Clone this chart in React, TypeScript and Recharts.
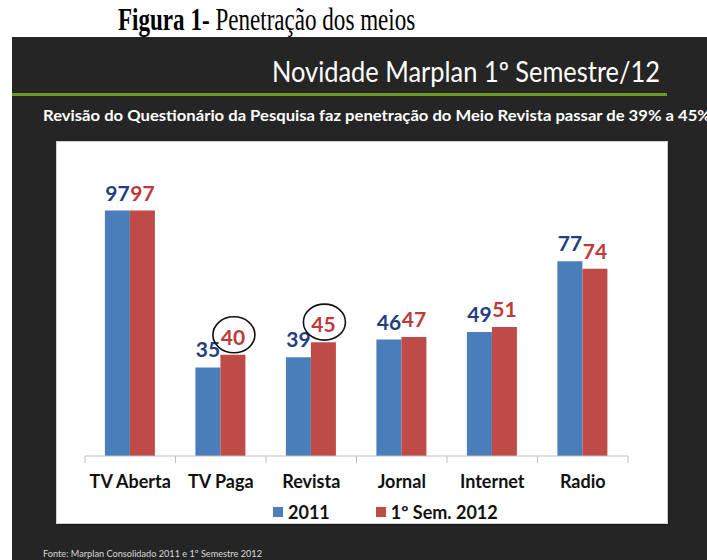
import React, { useLayoutEffect, useRef, useState } from "react";
import { BarChart, Bar, XAxis, YAxis, LabelList } from "recharts";

const categories = ["TV Aberta", "TV Paga", "Revista", "Jornal", "Internet", "Radio"];
const values2011 = [97, 35, 39, 46, 49, 77];
const values2012 = [97, 40, 45, 47, 51, 74];
const seriesNames = ["2011", "1º Sem. 2012"];
const circled = ["TV Paga", "Revista"];

const data = categories.map((name, i) => ({
    name,
    y2011: values2011[i],
    y2012: values2012[i],
}));

const BLUE = "#4A7EBB";
const RED = "#BE4B48";
const BLUE_TXT = "#1F3F7F";
const RED_TXT = "#C0393B";
const FONT = "Lato, 'Open Sans', sans-serif";
const SERIF = "'Liberation Serif', 'Times New Roman', serif";

const CHART_W = 610;
const CHART_H = 381;
const MARGIN = { top: 61, right: 39, left: 28, bottom: 27 };
const BAND = (CHART_W - MARGIN.left - MARGIN.right) / categories.length;

const CategoryTick = (props: any) => {
    const { x, y, payload, index, visibleTicksCount } = props;
    const last = index === visibleTicksCount - 1;
    return (
        <g>
            <line x1={x - BAND / 2} x2={x - BAND / 2} y1={y} y2={y + 7} stroke="#BFBFBF" />
            {last && <line x1={x + BAND / 2} x2={x + BAND / 2} y1={y} y2={y + 7} stroke="#BFBFBF" />}
            <text x={x} y={y + 32} textAnchor="middle" fontFamily={FONT} fontWeight={700} fontSize={18} fill="#111">
                {payload.value}
            </text>
        </g>
    );
};

const makeLabel = (color: string, withCircle: boolean) => (props: any) => {
    const { x, y, width, value, index } = props;
    const cx = x + width / 2;
    const ring = withCircle && circled.includes(categories[index]);
    return (
        <g>
            {ring && <ellipse cx={cx + 1} cy={y - 20} rx={21} ry={18} fill="none" stroke="#111" strokeWidth={1.6} />}
            <text x={cx} y={y - 10} textAnchor="middle" fontFamily={FONT} fontWeight={700} fontSize={21} fill={color}>
                {value}
            </text>
        </g>
    );
};

// figure caption, squeezed horizontally to the width it has in the scan
function Caption() {
    const ref = useRef<HTMLDivElement>(null);
    const [sx, setSx] = useState(0.8);
    useLayoutEffect(() => {
        if (ref.current) setSx(297 / ref.current.offsetWidth);
    }, []);
    return (
        <div
            ref={ref}
            style={{
                position: "absolute", left: 118, top: 0, whiteSpace: "nowrap",
                fontFamily: SERIF, fontSize: 32, lineHeight: "38px", color: "#000",
                transform: `scaleX(${sx})`, transformOrigin: "0 0",
            }}
        >
            <b>Figura 1-</b> Penetração dos meios
        </div>
    );
}

export default function App() {
    return (
        <div style={{ position: "absolute", left: 0, top: 0, width: 707, height: 560, background: "#fff", overflow: "hidden" }}>
            <div style={{ position: "absolute", left: 12, top: 37, width: 695, height: 523, background: "#252525" }} />
            <Caption />
            <svg width={707} height={560} style={{ position: "absolute", left: 0, top: 0 }}>
                <text x={272} y={82} fontFamily={FONT} fontSize={28} fill="#fff" textLength={388} lengthAdjust="spacingAndGlyphs">
                    Novidade Marplan 1º Semestre/12
                </text>
                <rect x={12} y={93} width={655} height={3} fill="#6B9A22" />
                <text x={43} y={121} fontFamily={FONT} fontWeight={700} fontSize={15} fill="#fff" textLength={668} lengthAdjust="spacingAndGlyphs">
                    Revisão do Questionário da Pesquisa faz penetração do Meio Revista passar de 39% a 45%
                </text>
                <text x={43} y={557} fontFamily={FONT} fontSize={9} fill="#d9d9d9" textLength={219} lengthAdjust="spacingAndGlyphs">
                    Fonte: Marplan Consolidado 2011 e 1º Semestre 2012
                </text>
            </svg>
            <div style={{ position: "absolute", left: 57, top: 142, width: CHART_W, height: CHART_H, background: "#fff", boxShadow: "1px 1px 2px #000", outline: "1px solid #cfcfcf" }}>
                <BarChart width={CHART_W} height={CHART_H} data={data} margin={MARGIN} barCategoryGap="22%" barGap={0}>
                    <YAxis hide domain={[0, 100]} />
                    <XAxis
                        dataKey="name"
                        height={40}
                        axisLine={{ stroke: "#BFBFBF" }}
                        tickLine={false}
                        tickSize={0}
                        tickMargin={0}
                        interval={0}
                        tick={<CategoryTick />}
                    />
                    <Bar dataKey="y2011" name={seriesNames[0]} fill={BLUE} isAnimationActive={false}>
                        <LabelList dataKey="y2011" content={makeLabel(BLUE_TXT, false)} />
                    </Bar>
                    <Bar dataKey="y2012" name={seriesNames[1]} fill={RED} isAnimationActive={false}>
                        <LabelList dataKey="y2012" content={makeLabel(RED_TXT, true)} />
                    </Bar>
                </BarChart>
                <div style={{ position: "absolute", left: 216, top: 360, display: "flex", gap: 46, fontFamily: FONT, fontWeight: 700, fontSize: 18, color: "#111", lineHeight: "20px" }}>
                    {seriesNames.map((s, i) => (
                        <div key={s} style={{ display: "flex", alignItems: "center", gap: 5 }}>
                            <span style={{ width: 10, height: 10, background: i === 0 ? BLUE : RED, display: "inline-block" }} />
                            <span>{s}</span>
                        </div>
                    ))}
                </div>
            </div>
        </div>
    );
}
